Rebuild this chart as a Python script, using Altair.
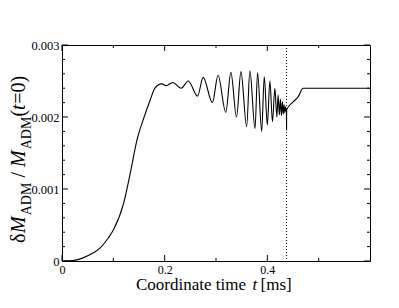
import altair as alt
import pandas as pd

# ---- data ----
t_ms = [0.0, 0.02, 0.04, 0.06, 0.074, 0.09, 0.10, 0.12, 0.133, 0.146, 0.16, 0.172,
        0.181, 0.194, 0.203, 0.216, 0.232, 0.246, 0.264, 0.275, 0.293, 0.304,
        0.319, 0.329, 0.340, 0.3486, 0.3597, 0.366, 0.376, 0.381, 0.389, 0.394,
        0.400, 0.405, 0.410, 0.4147, 0.4186, 0.421, 0.4235, 0.4255, 0.4275,
        0.4293, 0.431, 0.4325, 0.434, 0.4352, 0.4366, 0.4372, 0.4374, 0.4376,
        0.4503, 0.460, 0.4697, 0.60]
dM_e3 = [0.0, 0.005, 0.04, 0.11, 0.18, 0.32, 0.43, 0.80, 1.22, 1.68, 2.00, 2.24,
         2.40, 2.46, 2.435, 2.48, 2.40, 2.50, 2.29, 2.55, 2.20, 2.58,
         2.065, 2.62, 2.00, 2.63, 1.865, 2.64, 1.84, 2.615, 1.80, 2.56,
         1.89, 2.50, 1.935, 2.40, 2.00, 2.305, 2.03, 2.25, 2.02,
         2.21, 2.04, 2.17, 2.06, 2.14, 2.08, 2.10, 1.82, 2.10,
         2.21, 2.28, 2.40, 2.40]
merger_t = [0.4374]

x_major = [0.0, 0.2, 0.4]
x_minor = [0.1, 0.3, 0.5]
y_major = [0.0, 0.001, 0.002, 0.003]
y_minor = [0.0002, 0.0004, 0.0006, 0.0008, 0.0012, 0.0014, 0.0016, 0.0018,
           0.0022, 0.0024, 0.0026, 0.0028]

W, H = 308, 216
FONT = "Liberation Serif"

df = pd.DataFrame({"t": t_ms, "v": [v * 1e-3 for v in dM_e3]})
xs = alt.Scale(domain=[0, 0.6], nice=False, zero=False)
ys = alt.Scale(domain=[0, 0.003], nice=False, zero=False)

base = alt.Chart(df)
line = base.mark_line(color="black", strokeWidth=1.1, interpolate="monotone").encode(
    x=alt.X("t:Q", scale=xs, title=None,
            axis=alt.Axis(values=x_major, ticks=False, tickSize=0, domain=False, grid=False,
                          labelFlush=False, labelOverlap=False,
                          labelExpr="datum.value == 0 ? '0' : format(datum.value, '.1f')",
                          labelFont=FONT, labelFontSize=12, labelColor="black", labelPadding=3)),
    y=alt.Y("v:Q", scale=ys, title=None,
            axis=alt.Axis(values=y_major, ticks=False, tickSize=0, domain=False, grid=False,
                          labelFlush=False, labelOverlap=False,
                          labelExpr="datum.value == 0 ? '0' : format(datum.value, '.3f')",
                          labelFont=FONT, labelFontSize=12.5, labelColor="black", labelPadding=3)),
)

vline = alt.Chart(pd.DataFrame({"t": merger_t})).mark_rule(
    color="black", strokeWidth=1, strokeDash=[1, 2]).encode(x=alt.X("t:Q", scale=xs))

def xticks(vals, size):
    d = alt.Chart(pd.DataFrame({"t": vals}))
    b = d.mark_rule(color="black", strokeWidth=1).encode(
        x=alt.X("t:Q", scale=xs), y=alt.value(H), y2=alt.value(H - size))
    tp = d.mark_rule(color="black", strokeWidth=1).encode(
        x=alt.X("t:Q", scale=xs), y=alt.value(0), y2=alt.value(size))
    return [b, tp]

def yticks(vals, size):
    d = alt.Chart(pd.DataFrame({"v": vals}))
    l = d.mark_rule(color="black", strokeWidth=1).encode(
        y=alt.Y("v:Q", scale=ys), x=alt.value(0), x2=alt.value(size))
    r = d.mark_rule(color="black", strokeWidth=1).encode(
        y=alt.Y("v:Q", scale=ys), x=alt.value(W), x2=alt.value(W - size))
    return [l, r]

ticks = xticks(x_major, 6) + xticks(x_minor, 3) + yticks(y_major, 6) + yticks(y_minor, 3)

one = pd.DataFrame({"a": [0]})

def txt(s, x, y, size=17, italic=False, angle=0):
    kw = dict(text=s, x=x, y=y, font=FONT, fontSize=size, color="black",
              align="left", baseline="alphabetic")
    if italic:
        kw["fontStyle"] = "italic"
    if angle:
        kw["angle"] = angle
    return alt.Chart(one).mark_text(**kw)

# x axis title
xt = [txt("Coordinate time", 74, 245),
      txt("t", 190.5, 245, italic=True),
      txt("[ms]", 198.5, 245)]

# y axis title (rotated, reading upward)
bx = -37.5
ts, ss = 20, 14
yt = [txt("δ", bx, 198, size=ts, angle=270),
      txt("M", bx, 188, size=ts, italic=True, angle=270),
      txt("ADM", bx + 6, 170.3, size=ss, angle=270),
      txt("/", bx, 132.6, size=ts, angle=270),
      txt("M", bx, 122, size=ts, italic=True, angle=270),
      txt("ADM", bx + 6, 104.3, size=ss, angle=270),
      txt("(", bx, 71.6, size=ts, angle=270),
      txt("t", bx, 64.9, size=ts, italic=True, angle=270),
      txt("=0)", bx, 58.8, size=ts, angle=270)]

chart = alt.layer(line, vline, *ticks, *xt, *yt).properties(
    width=W, height=H,
    autosize=alt.AutoSizeParams(type="none"),
    padding={"left": 54, "top": 37, "right": 21, "bottom": 39},
    background="white",
).configure_view(stroke="black", strokeWidth=1)

chart.save("out.html", embed_options={"renderer": "svg", "actions": False})
